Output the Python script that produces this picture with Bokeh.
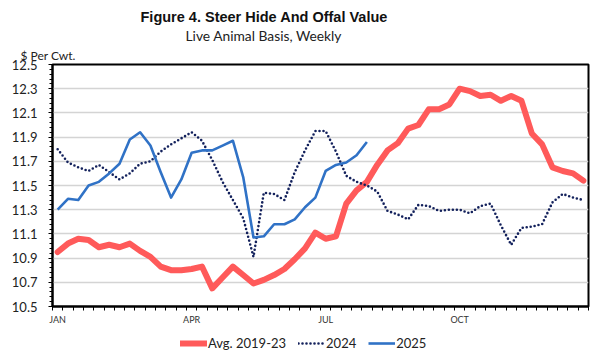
from bokeh.plotting import figure
from bokeh.layouts import column
from bokeh.models import (FixedTicker, Title, Legend, LegendItem, Range1d)
from bokeh.embed import file_html
from bokeh.resources import INLINE

weeks = list(range(1, 53))
avg_2019_23 = [10.95, 11.02, 11.06, 11.05, 10.99, 11.01, 10.99, 11.02, 10.96, 10.91,
               10.83, 10.80, 10.80, 10.81, 10.83, 10.65, 10.74, 10.83, 10.76, 10.69,
               10.72, 10.76, 10.81, 10.89, 10.98, 11.11, 11.06, 11.08, 11.35, 11.46,
               11.53, 11.67, 11.79, 11.85, 11.97, 12.00, 12.13, 12.13, 12.17, 12.30,
               12.28, 12.24, 12.25, 12.20, 12.24, 12.20, 11.93, 11.84, 11.65, 11.62,
               11.60, 11.54]
y2024 = [11.80, 11.69, 11.65, 11.62, 11.67, 11.61, 11.55, 11.60, 11.68, 11.70,
         11.78, 11.84, 11.89, 11.94, 11.87, 11.71, 11.53, 11.38, 11.23, 10.91,
         11.44, 11.43, 11.38, 11.61, 11.79, 11.95, 11.95, 11.78, 11.58, 11.53,
         11.50, 11.45, 11.29, 11.26, 11.22, 11.34, 11.33, 11.29, 11.30, 11.30,
         11.27, 11.33, 11.35, 11.17, 11.01, 11.15, 11.16, 11.18, 11.36, 11.43,
         11.40, 11.38]
y2025 = [11.30, 11.39, 11.38, 11.50, 11.53, 11.60, 11.68, 11.88, 11.94, 11.83,
         11.61, 11.40, 11.55, 11.77, 11.79, 11.79, 11.83, 11.87, 11.57, 11.07,
         11.08, 11.18, 11.18, 11.22, 11.32, 11.40, 11.62, 11.67, 11.69, 11.75,
         11.86]
weeks_2025 = weeks[:len(y2025)]
series_names = ["Avg. 2019-23", "2024", "2025"]

month_ticks = [1, 14, 27, 40]
month_labels = ["JAN", "APR", "JUL", "OCT"]
y_ticks = [10.5, 10.7, 10.9, 11.1, 11.3, 11.5, 11.7, 11.9, 12.1, 12.3, 12.5]

FONT = "Lato"
STYLES = [dict(line_color="#ff5a5a", line_width=6, line_join="round", line_cap="round"),
          dict(line_color="#13215c", line_width=2.6, line_dash="0 4", line_cap="round"),
          dict(line_color="#3072c6", line_width=2.6, line_join="round")]

p = figure(width=591, height=331, output_backend="svg", toolbar_location=None,
           x_range=Range1d(0.5, 52.5), y_range=Range1d(10.5, 12.5),
           min_border_left=52, min_border_right=3, min_border_top=64,
           min_border_bottom=25)
p.outline_line_color = "black"
p.outline_line_width = 2
p.background_fill_color = "white"
p.border_fill_color = "white"

# y axis
p.yaxis.ticker = FixedTicker(ticks=y_ticks,
                             minor_ticks=[round(10.5 + 0.04 * i, 2) for i in range(51)])
p.yaxis.major_label_overrides = {t: f"{t:.1f}" for t in y_ticks}
p.yaxis.axis_line_color = "black"
p.yaxis.axis_line_width = 2
p.yaxis.major_tick_out = 4
p.yaxis.major_tick_in = 0
p.yaxis.minor_tick_out = 3
p.yaxis.minor_tick_in = 0
p.yaxis.major_tick_line_color = "black"
p.yaxis.minor_tick_line_color = "black"
p.yaxis.major_label_standoff = 11
p.yaxis.major_label_text_font = FONT
p.yaxis.major_label_text_font_size = "13px"
p.yaxis.major_label_text_color = "#222222"

# x axis
p.xaxis.ticker = FixedTicker(ticks=month_ticks,
                             minor_ticks=[w - 0.5 for w in range(1, 54)])
p.xaxis.major_label_overrides = dict(zip(month_ticks, month_labels))
p.xaxis.axis_line_color = "black"
p.xaxis.axis_line_width = 2
p.xaxis.major_tick_out = 0
p.xaxis.major_tick_in = 0
p.xaxis.minor_tick_out = 4
p.xaxis.minor_tick_in = 0
p.xaxis.minor_tick_line_color = "black"
p.xaxis.major_label_standoff = 3
p.xaxis.major_label_text_font = FONT
p.xaxis.major_label_text_font_size = "9px"
p.xaxis.major_label_text_color = "#333333"

p.xgrid.visible = False
p.ygrid.ticker = FixedTicker(ticks=y_ticks)
p.ygrid.grid_line_color = "#d4d4d4"
p.ygrid.grid_line_width = 1.5

p.line(weeks, avg_2019_23, **STYLES[0])
p.line(weeks, y2024, **STYLES[1])
p.line(weeks_2025, y2025, **STYLES[2])

p.add_layout(Title(text="$ Per Cwt.", align="left", offset=-32, standoff=4,
                   text_line_height=1.55,
                   text_font=FONT, text_font_size="12px", text_font_style="normal",
                   text_color="#222222"), "above")
p.add_layout(Title(text="Live Animal Basis, Weekly", align="left", offset=133,
                   standoff=0, text_line_height=0.45, text_font=FONT,
                   text_font_size="13.8px",
                   text_font_style="normal", text_color="#222222"), "above")
p.title.text = "Figure 4. Steer Hide And Offal Value"
p.title.align = "left"
p.title.offset = 88
p.title.standoff = 0
p.title.text_line_height = 0.3
p.title.text_font = "Liberation Sans"
p.title.text_font_style = "bold"
p.title.text_font_size = "14.5px"
p.title.text_color = "#111111"

# legend strip below the chart (frame aligned with the chart's frame)
lf = figure(width=591, height=24, output_backend="svg", toolbar_location=None,
            x_range=Range1d(0, 1), y_range=Range1d(0, 1),
            x_axis_type=None, y_axis_type=None,
            min_border_left=0, min_border_right=0, min_border_top=0,
            min_border_bottom=0)
lf.outline_line_color = None
lf.xgrid.visible = False
lf.ygrid.visible = False
items = []
for name, st in zip(series_names, STYLES):
    r = lf.line([5, 6], [5, 6], **st)
    items.append(LegendItem(label=name, renderers=[r]))
legend = Legend(items=items, orientation="horizontal", location=(128, 2),
                padding=0, margin=0, spacing=12, glyph_width=27,
                label_standoff=1, border_line_color=None,
                background_fill_alpha=0,
                label_text_font=FONT, label_text_font_size="13px",
                label_text_color="#222222")
lf.add_layout(legend, "center")

layout = column(p, lf, spacing=0)
open("out.html", "w").write(file_html(layout, INLINE))
